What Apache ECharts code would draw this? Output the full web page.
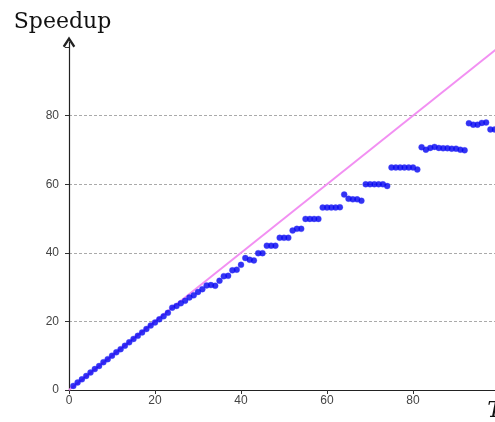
<!DOCTYPE html>
<html>
<head>
<meta charset="utf-8">
<script src="https://cdn.jsdelivr.net/npm/echarts@6/dist/echarts.min.js"></script>
<style>
  html, body { margin: 0; padding: 0; background: #ffffff; }
  #chart { width: 495px; height: 422px; }
</style>
</head>
<body>
<div id="chart"></div>
<script>
// Threads (x) and measured speedup (y)
const threads = [
  1,2,3,4,5,6,7,8,9,10,11,12,13,14,15,16,17,18,19,20,
  21,22,23,24,25,26,27,28,29,30,31,32,33,34,35,36,37,38,39,40,
  41,42,43,44,45,46,47,48,49,50,51,52,53,54,55,56,57,58,59,60,
  61,62,63,64,65,66,67,68,69,70,71,72,73,74,75,76,77,78,79,80,
  81,82,83,84,85,86,87,88,89,90,91,92,93,94,95,96,97,98,99
];
const speedup = [
  1.2,2.2,3.1,4.1,5.1,6.1,7.0,8.1,9.0,10.0,11.0,11.9,12.9,13.9,14.9,15.8,16.8,17.8,18.8,19.7,
  20.6,21.5,22.5,24.0,24.5,25.3,26.0,27.0,27.6,28.6,29.4,30.5,30.6,30.4,31.9,33.2,33.3,34.9,35.1,36.5,
  38.5,38.0,37.8,39.9,39.9,42.1,42.1,42.1,44.4,44.4,44.4,46.5,47.0,47.0,49.9,49.9,49.9,49.9,53.2,53.2,
  53.2,53.2,53.3,57.0,55.8,55.6,55.6,55.2,60.0,60.0,60.0,60.0,60.0,59.5,64.9,64.9,64.9,64.9,64.9,64.9,
  64.3,70.8,70.1,70.6,70.9,70.6,70.5,70.5,70.4,70.4,70.1,69.9,77.8,77.4,77.4,77.9,78.0,76.0,76.0
];
// Ideal (linear) speedup reference line
const idealX = [0, 100];
const idealY = [0, 100];
// Tick labels
const xTickLabels = [0, 20, 40, 60, 80];
const yTickLabels = [0, 20, 40, 60, 80];
const yGridValues = [0, 20, 40, 60, 80, 100];

const chevron = 'path://M5,0 L10,7.6 L8.5,8.8 L5,3.4 L1.5,8.8 L0,7.6 Z';
const labelFont = { color: '#444', fontSize: 12, fontFamily: 'Liberation Sans, Arial, sans-serif' };

const chart = echarts.init(document.getElementById('chart'), null, { renderer: 'canvas' });
chart.setOption({
  backgroundColor: '#ffffff',
  animation: false,
  grid: { left: 69, top: 42, width: 434.3, height: 348, containLabel: false, outerBoundsMode: 'none' },
  xAxis: {
    type: 'value', min: 0, max: 101,
    name: 'Threads', nameLocation: 'end', nameGap: -16,
    nameTextStyle: { fontFamily: 'DejaVu Serif', fontStyle: 'italic', fontSize: 22, color: '#111', verticalAlign: 'top', padding: [10, 0, 0, 0] },
    axisLine: { show: true, lineStyle: { color: '#222', width: 1.2 }, symbol: ['none', chevron], symbolSize: [13, 11] },
    axisTick: { show: true, length: 4, lineStyle: { color: '#333' }, customValues: xTickLabels },
    axisLabel: Object.assign({ margin: 5, customValues: xTickLabels }, labelFont),
    splitLine: { show: false }
  },
  yAxis: {
    type: 'value', min: 0, max: 101.5,
    name: 'Speedup', nameLocation: 'end', nameGap: 9,
    nameTextStyle: { fontFamily: 'DejaVu Serif', fontSize: 22, color: '#111', align: 'center', verticalAlign: 'bottom', padding: [0, 13, 0, 0] },
    axisLine: { show: true, lineStyle: { color: '#222', width: 1.2 }, symbol: ['none', chevron], symbolSize: [13, 11] },
    axisTick: { show: true, length: 4, lineStyle: { color: '#333' }, customValues: yGridValues },
    axisLabel: Object.assign({ margin: 10, customValues: yTickLabels }, labelFont),
    splitLine: { show: true, showMinLine: false, showMaxLine: false, lineStyle: { color: '#aaa', type: [3, 2], width: 1 } }
  },
  series: [
    {
      type: 'line',
      data: idealX.map((x, i) => [x, idealY[i]]),
      symbol: 'none',
      lineStyle: { color: '#f290f2', width: 2 },
      z: 1
    },
    {
      type: 'scatter',
      data: threads.map((x, i) => [x, speedup[i]]),
      symbol: 'circle',
      symbolSize: 6,
      itemStyle: { color: '#0000f0', borderColor: 'rgba(60,60,255,0.5)', borderWidth: 0.8 },
      z: 3
    }
  ]
});
</script>
</body>
</html>
